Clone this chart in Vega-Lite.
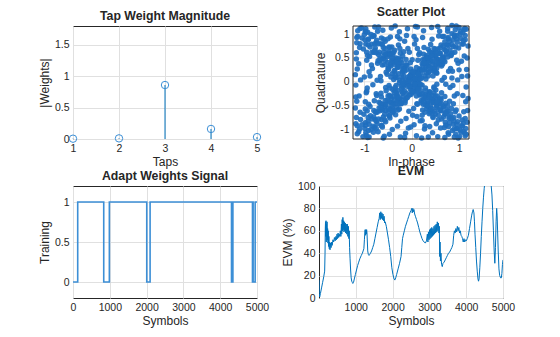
{
"$schema": "https://vega.github.io/schema/vega-lite/v6.json",
"background": "white",
"padding": {"left": 37, "top": 6, "right": 5, "bottom": 5},
"config": {
  "font": "Liberation Sans",
  "view": {"stroke": "#262626", "strokeWidth": 1},
  "axis": {"grid": true, "gridColor": "#e0e0e0", "domain": false, "ticks": false, "labelFontSize": 10.5, "labelColor": "#262626", "titleFontSize": 12, "titleFontWeight": "normal", "titleColor": "#262626", "labelPadding": 4, "titlePadding": 3, "labelFlush": false, "labelOverlap": false},
  "title": {"fontSize": 12.3, "fontWeight": "bold", "color": "#262626", "offset": 4}
},
"datasets": {
  "taps": [{"tap":1,"w":0.005},{"tap":2,"w":0.01},{"tap":3,"w":0.86},{"tap":4,"w":0.16},{"tap":5,"w":0.03}],
  "gy": [{"g":-1},{"g":-0.5},{"g":0},{"g":0.5},{"g":1}],
  "frame": [{"x0":-1.24,"x1":1.21,"y0":-1.2,"y1":1.17}],
  "train": [{"s":0,"t":0},{"s":128,"t":1},{"s":835,"t":0},{"s":988,"t":1},{"s":2004,"t":0},{"s":2095,"t":1},{"s":4307,"t":0},{"s":4345,"t":1},{"s":4877,"t":0},{"s":4887,"t":1},{"s":4895,"t":0},{"s":4950,"t":1},{"s":5000,"t":1}],
  "evm": [{"s":1,"e":16},{"s":10,"e":4},{"s":20,"e":1},{"s":40,"e":4},{"s":70,"e":9},{"s":100,"e":14},{"s":130,"e":19},{"s":155,"e":24},{"s":165,"e":40},{"s":172,"e":62},{"s":178,"e":68},{"s":185,"e":55},{"s":192,"e":69},{"s":198,"e":50},{"s":205,"e":66},{"s":212,"e":58},{"s":220,"e":68},{"s":228,"e":52},{"s":236,"e":62},{"s":244,"e":49},{"s":252,"e":60},{"s":260,"e":46},{"s":270,"e":55},{"s":280,"e":44},{"s":292,"e":50},{"s":300,"e":43},{"s":315,"e":49},{"s":330,"e":45},{"s":345,"e":50},{"s":360,"e":47},{"s":380,"e":52},{"s":400,"e":50},{"s":420,"e":54},{"s":440,"e":51},{"s":460,"e":55},{"s":475,"e":52},{"s":490,"e":57},{"s":505,"e":53},{"s":520,"e":58},{"s":535,"e":54},{"s":550,"e":57},{"s":565,"e":55},{"s":580,"e":60},{"s":595,"e":55},{"s":610,"e":66},{"s":620,"e":57},{"s":630,"e":70},{"s":640,"e":60},{"s":650,"e":72},{"s":660,"e":61},{"s":670,"e":69},{"s":680,"e":59},{"s":690,"e":68},{"s":700,"e":60},{"s":715,"e":67},{"s":725,"e":58},{"s":740,"e":66},{"s":755,"e":57},{"s":770,"e":66},{"s":785,"e":55},{"s":800,"e":64},{"s":812,"e":53},{"s":822,"e":60},{"s":832,"e":45},{"s":845,"e":35},{"s":860,"e":25},{"s":875,"e":18},{"s":890,"e":15},{"s":905,"e":14},{"s":920,"e":13},{"s":940,"e":14},{"s":960,"e":17},{"s":990,"e":21},{"s":1020,"e":25},{"s":1050,"e":29},{"s":1080,"e":32},{"s":1110,"e":35},{"s":1150,"e":38},{"s":1180,"e":40},{"s":1200,"e":42},{"s":1220,"e":44},{"s":1235,"e":52},{"s":1245,"e":58},{"s":1255,"e":61},{"s":1265,"e":56},{"s":1275,"e":61},{"s":1285,"e":57},{"s":1295,"e":61},{"s":1305,"e":58},{"s":1315,"e":50},{"s":1325,"e":42},{"s":1340,"e":39},{"s":1360,"e":38},{"s":1380,"e":39},{"s":1400,"e":40},{"s":1430,"e":42},{"s":1460,"e":45},{"s":1490,"e":48},{"s":1520,"e":53},{"s":1550,"e":58},{"s":1580,"e":63},{"s":1610,"e":68},{"s":1635,"e":71},{"s":1650,"e":76},{"s":1665,"e":70},{"s":1680,"e":77},{"s":1695,"e":71},{"s":1710,"e":76},{"s":1725,"e":70},{"s":1740,"e":75},{"s":1755,"e":69},{"s":1770,"e":73},{"s":1785,"e":67},{"s":1800,"e":68},{"s":1830,"e":64},{"s":1860,"e":58},{"s":1890,"e":52},{"s":1920,"e":45},{"s":1950,"e":37},{"s":1980,"e":27},{"s":2010,"e":21},{"s":2040,"e":17},{"s":2060,"e":16},{"s":2085,"e":18},{"s":2110,"e":21},{"s":2150,"e":26},{"s":2190,"e":31},{"s":2230,"e":37},{"s":2250,"e":45},{"s":2270,"e":53},{"s":2290,"e":56},{"s":2320,"e":60},{"s":2350,"e":64},{"s":2380,"e":67},{"s":2410,"e":70},{"s":2440,"e":73},{"s":2470,"e":76},{"s":2500,"e":78},{"s":2520,"e":80},{"s":2535,"e":76},{"s":2550,"e":80},{"s":2565,"e":77},{"s":2580,"e":79},{"s":2600,"e":75},{"s":2620,"e":73},{"s":2650,"e":70},{"s":2680,"e":67},{"s":2710,"e":63},{"s":2740,"e":59},{"s":2770,"e":56},{"s":2800,"e":53},{"s":2830,"e":51},{"s":2860,"e":50},{"s":2890,"e":49},{"s":2920,"e":51},{"s":2945,"e":57},{"s":2960,"e":50},{"s":2975,"e":59},{"s":2990,"e":52},{"s":3005,"e":61},{"s":3020,"e":53},{"s":3035,"e":62},{"s":3050,"e":54},{"s":3065,"e":63},{"s":3080,"e":55},{"s":3095,"e":62},{"s":3110,"e":56},{"s":3125,"e":64},{"s":3140,"e":57},{"s":3155,"e":65},{"s":3170,"e":58},{"s":3185,"e":66},{"s":3200,"e":59},{"s":3215,"e":68},{"s":3230,"e":60},{"s":3245,"e":67},{"s":3260,"e":58},{"s":3270,"e":64},{"s":3280,"e":37},{"s":3290,"e":50},{"s":3300,"e":33},{"s":3315,"e":40},{"s":3330,"e":30},{"s":3350,"e":28},{"s":3370,"e":31},{"s":3400,"e":32},{"s":3430,"e":34},{"s":3460,"e":36},{"s":3490,"e":38},{"s":3520,"e":40},{"s":3550,"e":41},{"s":3580,"e":43},{"s":3610,"e":45},{"s":3640,"e":48},{"s":3660,"e":56},{"s":3680,"e":60},{"s":3700,"e":58},{"s":3720,"e":62},{"s":3740,"e":59},{"s":3760,"e":64},{"s":3780,"e":60},{"s":3800,"e":63},{"s":3820,"e":58},{"s":3840,"e":60},{"s":3860,"e":56},{"s":3880,"e":55},{"s":3900,"e":53},{"s":3920,"e":50},{"s":3940,"e":53},{"s":3960,"e":50},{"s":3980,"e":52},{"s":4000,"e":51},{"s":4030,"e":53},{"s":4060,"e":56},{"s":4090,"e":62},{"s":4120,"e":68},{"s":4150,"e":74},{"s":4170,"e":77},{"s":4190,"e":79},{"s":4210,"e":76},{"s":4225,"e":68},{"s":4240,"e":57},{"s":4260,"e":45},{"s":4280,"e":33},{"s":4300,"e":24},{"s":4320,"e":17},{"s":4335,"e":15},{"s":4350,"e":17},{"s":4370,"e":27},{"s":4390,"e":40},{"s":4410,"e":55},{"s":4430,"e":68},{"s":4450,"e":80},{"s":4470,"e":90},{"s":4490,"e":98},{"s":4510,"e":104},{"s":4530,"e":108},{"s":4560,"e":110},{"s":4590,"e":110},{"s":4620,"e":108},{"s":4650,"e":104},{"s":4680,"e":100},{"s":4700,"e":92},{"s":4720,"e":78},{"s":4740,"e":60},{"s":4760,"e":42},{"s":4778,"e":31},{"s":4795,"e":45},{"s":4812,"e":68},{"s":4828,"e":80},{"s":4840,"e":74},{"s":4855,"e":58},{"s":4870,"e":42},{"s":4890,"e":26},{"s":4910,"e":20},{"s":4935,"e":18},{"s":4955,"e":18},{"s":4970,"e":22},{"s":4985,"e":30},{"s":5000,"e":34}],
  "iq": [
{"i":-1.12,"q":-1.05},{"i":-1.03,"q":-1.15},{"i":-0.98,"q":-0.86},{"i":-0.91,"q":-1.02},{"i":-0.87,"q":-0.71},{"i":-0.82,"q":-0.93},{"i":-0.76,"q":-0.64},{"i":-0.73,"q":-0.88},{"i":-0.69,"q":-0.55},{"i":-0.64,"q":-0.79},{"i":-0.61,"q":-0.47},{"i":-0.57,"q":-0.68},{"i":-0.52,"q":-0.39},{"i":-0.49,"q":-0.62},{"i":-0.45,"q":-0.31},{"i":-0.41,"q":-0.55},{"i":-0.37,"q":-0.22},{"i":-0.34,"q":-0.46},{"i":-0.29,"q":-0.18},{"i":-0.26,"q":-0.38},{"i":-0.22,"q":-0.09},{"i":-0.18,"q":-0.31},{"i":-0.14,"q":-0.02},{"i":-0.11,"q":-0.24},{"i":-0.07,"q":0.05},{"i":-0.03,"q":-0.15},{"i":0.02,"q":0.11},{"i":0.05,"q":-0.08},{"i":0.09,"q":0.19},{"i":0.13,"q":0.01},{"i":0.17,"q":0.27},{"i":0.21,"q":0.08},{"i":0.24,"q":0.35},{"i":0.28,"q":0.12},{"i":0.32,"q":0.44},{"i":0.36,"q":0.21},{"i":0.39,"q":0.52},{"i":0.43,"q":0.28},{"i":0.47,"q":0.61},{"i":0.51,"q":0.36},{"i":0.55,"q":0.69},{"i":0.58,"q":0.43},{"i":0.62,"q":0.77},{"i":0.66,"q":0.51},{"i":0.7,"q":0.84},{"i":0.73,"q":0.58},{"i":0.77,"q":0.93},{"i":0.81,"q":0.66},{"i":0.85,"q":1.01},{"i":0.88,"q":0.74},{"i":0.92,"q":1.09},{"i":0.96,"q":0.83},{"i":1.0,"q":1.14},{"i":1.04,"q":0.91},{"i":1.08,"q":1.03},{"i":1.13,"q":0.97},
{"i":-1.08,"q":-0.79},{"i":-1.01,"q":-0.68},{"i":-0.94,"q":-0.61},{"i":-0.88,"q":-0.52},{"i":-0.79,"q":-0.96},{"i":-0.71,"q":-1.05},{"i":-0.63,"q":-0.91},{"i":-0.55,"q":-0.84},{"i":-0.47,"q":-0.72},{"i":-0.4,"q":-0.16},{"i":-0.33,"q":-0.08},{"i":-0.25,"q":0.03},{"i":-0.17,"q":0.12},{"i":-0.09,"q":-0.33},{"i":-0.01,"q":-0.26},{"i":0.07,"q":-0.19},{"i":0.15,"q":-0.11},{"i":0.23,"q":0.46},{"i":0.31,"q":0.55},{"i":0.38,"q":0.63},{"i":0.46,"q":0.22},{"i":0.53,"q":0.29},{"i":0.61,"q":0.37},{"i":0.68,"q":0.95},{"i":0.76,"q":1.06},{"i":0.83,"q":0.55},{"i":0.91,"q":0.62},{"i":0.99,"q":0.71},{"i":1.06,"q":0.79},{"i":1.12,"q":1.12},{"i":-1.15,"q":-0.92},{"i":-0.96,"q":-1.12},{"i":-0.84,"q":-0.78},{"i":-0.67,"q":-0.61},{"i":-0.58,"q":-0.53},{"i":-0.43,"q":-0.44},{"i":-0.31,"q":-0.29},{"i":-0.2,"q":-0.21},{"i":-0.05,"q":-0.06},{"i":0.04,"q":0.03},{"i":0.11,"q":0.09},{"i":0.19,"q":0.18},{"i":0.27,"q":0.26},{"i":0.35,"q":0.33},{"i":0.44,"q":0.42},{"i":0.52,"q":0.5},{"i":0.6,"q":0.59},{"i":0.69,"q":0.67},{"i":0.78,"q":0.76},{"i":0.87,"q":0.88},{"i":0.95,"q":0.97},{"i":1.03,"q":1.05},{"i":-0.99,"q":-0.98},{"i":-0.9,"q":-0.89},{"i":-0.77,"q":-0.79},
{"i":-1.14,"q":1.07},{"i":-1.06,"q":1.13},{"i":-0.99,"q":0.88},{"i":-0.93,"q":1.04},{"i":-0.88,"q":0.73},{"i":-0.83,"q":0.95},{"i":-0.78,"q":0.66},{"i":-0.74,"q":0.87},{"i":-0.7,"q":0.57},{"i":-0.65,"q":0.8},{"i":-0.6,"q":0.49},{"i":-0.56,"q":0.7},{"i":-0.51,"q":0.41},{"i":-0.48,"q":0.63},{"i":-0.44,"q":0.33},{"i":-0.4,"q":0.56},{"i":-0.36,"q":0.24},{"i":-0.33,"q":0.47},{"i":-0.28,"q":0.17},{"i":-0.25,"q":0.39},{"i":-0.21,"q":0.1},{"i":-0.17,"q":0.32},{"i":-0.13,"q":0.03},{"i":-0.1,"q":0.25},{"i":-0.06,"q":-0.04},{"i":-0.02,"q":0.16},{"i":0.03,"q":-0.12},{"i":0.06,"q":0.07},{"i":0.1,"q":-0.2},{"i":0.14,"q":-0.01},{"i":0.18,"q":-0.28},{"i":0.22,"q":-0.07},{"i":0.25,"q":-0.36},{"i":0.29,"q":-0.13},{"i":0.33,"q":-0.45},{"i":0.37,"q":-0.22},{"i":0.4,"q":-0.53},{"i":0.44,"q":-0.29},{"i":0.48,"q":-0.62},{"i":0.52,"q":-0.37},{"i":0.56,"q":-0.7},{"i":0.59,"q":-0.44},{"i":0.63,"q":-0.78},{"i":0.67,"q":-0.52},{"i":0.71,"q":-0.85},{"i":0.74,"q":-0.59},{"i":0.78,"q":-0.94},{"i":0.82,"q":-0.67},{"i":0.86,"q":-1.02},{"i":0.89,"q":-0.75},{"i":0.93,"q":-1.1},{"i":0.97,"q":-0.84},{"i":1.01,"q":-1.15},{"i":1.05,"q":-0.92},{"i":1.09,"q":-1.04},{"i":1.14,"q":-0.98},
{"i":-1.09,"q":0.8},{"i":-1.02,"q":0.69},{"i":-0.95,"q":0.62},{"i":-0.89,"q":0.53},{"i":-0.8,"q":0.97},{"i":-0.72,"q":1.06},{"i":-0.64,"q":0.92},{"i":-0.56,"q":0.85},{"i":-0.48,"q":0.73},{"i":-0.41,"q":0.17},{"i":-0.34,"q":0.09},{"i":-0.26,"q":-0.02},{"i":-0.18,"q":-0.11},{"i":-0.1,"q":0.34},{"i":-0.02,"q":0.27},{"i":0.08,"q":0.2},{"i":0.16,"q":0.12},{"i":0.24,"q":-0.47},{"i":0.32,"q":-0.56},{"i":0.39,"q":-0.64},{"i":0.47,"q":-0.23},{"i":0.54,"q":-0.3},{"i":0.62,"q":-0.38},{"i":0.69,"q":-0.96},{"i":0.77,"q":-1.07},{"i":0.84,"q":-0.56},{"i":0.92,"q":-0.63},{"i":1.0,"q":-0.72},{"i":1.07,"q":-0.8},{"i":1.13,"q":-1.13},{"i":-1.16,"q":0.93},{"i":-0.97,"q":1.11},{"i":-0.85,"q":0.79},{"i":-0.68,"q":0.62},{"i":-0.59,"q":0.54},{"i":-0.42,"q":0.45},{"i":-0.3,"q":0.3},{"i":-0.19,"q":0.2},{"i":-0.04,"q":0.05},{"i":0.05,"q":-0.04},{"i":0.12,"q":-0.1},{"i":0.2,"q":-0.19},{"i":0.28,"q":-0.27},{"i":0.36,"q":-0.34},{"i":0.45,"q":-0.43},{"i":0.53,"q":-0.51},{"i":0.61,"q":-0.6},{"i":0.7,"q":-0.68},{"i":0.79,"q":-0.77},{"i":0.88,"q":-0.89},{"i":0.96,"q":-0.98},{"i":1.04,"q":-1.06},{"i":-1.0,"q":0.99},{"i":-0.91,"q":0.9},{"i":-0.78,"q":0.8},
{"i":-1.15,"q":-1.09},{"i":-0.93,"q":-1.17},{"i":-0.81,"q":-1.06},{"i":-0.58,"q":-1.14},{"i":-0.47,"q":-1.1},{"i":-0.24,"q":-1.16},{"i":-0.13,"q":-1.08},{"i":0.1,"q":-1.13},{"i":0.21,"q":-1.18},{"i":0.44,"q":-1.07},{"i":0.55,"q":-1.15},{"i":0.78,"q":-1.1},{"i":0.9,"q":-1.16},{"i":1.12,"q":-1.08},
{"i":-1.1,"q":-0.99},{"i":-0.97,"q":-0.91},{"i":-0.75,"q":-0.98},{"i":-0.64,"q":-0.92},{"i":-0.41,"q":-1.0},{"i":-0.3,"q":-0.93},{"i":-0.07,"q":-0.97},{"i":0.05,"q":-0.9},{"i":0.27,"q":-0.99},{"i":0.38,"q":-0.94},{"i":0.61,"q":-0.97},{"i":0.72,"q":-0.91},{"i":0.95,"q":-0.98},{"i":1.07,"q":-0.93},
{"i":-1.17,"q":-0.75},{"i":-0.92,"q":-0.82},{"i":-0.8,"q":-0.74},{"i":-0.57,"q":-0.8},{"i":-0.46,"q":-0.76},{"i":-0.23,"q":-0.83},{"i":-0.12,"q":-0.77},{"i":0.11,"q":-0.73},{"i":0.22,"q":-0.81},{"i":0.45,"q":-0.75},{"i":0.56,"q":-0.8},{"i":0.79,"q":-0.74},{"i":0.89,"q":-0.82},{"i":1.13,"q":-0.77},
{"i":-1.09,"q":-0.64},{"i":-0.98,"q":-0.57},{"i":-0.76,"q":-0.63},{"i":-0.63,"q":-0.58},{"i":-0.4,"q":-0.65},{"i":-0.29,"q":-0.59},{"i":-0.06,"q":-0.62},{"i":0.04,"q":-0.56},{"i":0.28,"q":-0.64},{"i":0.37,"q":-0.6},{"i":0.62,"q":-0.57},{"i":0.71,"q":-0.65},{"i":0.94,"q":-0.59},{"i":1.1,"q":-0.63},
{"i":-1.16,"q":-0.41},{"i":-0.91,"q":-0.47},{"i":-0.79,"q":-0.4},{"i":-0.56,"q":-0.48},{"i":-0.47,"q":-0.42},{"i":-0.22,"q":-0.46},{"i":-0.14,"q":-0.4},{"i":0.12,"q":-0.47},{"i":0.2,"q":-0.43},{"i":0.46,"q":-0.39},{"i":0.54,"q":-0.48},{"i":0.8,"q":-0.41},{"i":0.88,"q":-0.46},{"i":1.14,"q":-0.42},
{"i":-1.11,"q":-0.3},{"i":-0.96,"q":-0.23},{"i":-0.74,"q":-0.29},{"i":-0.65,"q":-0.24},{"i":-0.39,"q":-0.31},{"i":-0.31,"q":-0.25},{"i":-0.05,"q":-0.28},{"i":0.03,"q":-0.22},{"i":0.29,"q":-0.3},{"i":0.36,"q":-0.26},{"i":0.63,"q":-0.23},{"i":0.7,"q":-0.31},{"i":0.96,"q":-0.25},{"i":1.08,"q":-0.29},
{"i":-1.18,"q":-0.07},{"i":-0.94,"q":-0.13},{"i":-0.82,"q":-0.06},{"i":-0.55,"q":-0.12},{"i":-0.48,"q":-0.08},{"i":-0.21,"q":-0.14},{"i":-0.15,"q":-0.06},{"i":0.13,"q":-0.11},{"i":0.19,"q":-0.07},{"i":0.47,"q":-0.13},{"i":0.53,"q":-0.05},{"i":0.81,"q":-0.12},{"i":0.87,"q":-0.08},{"i":1.15,"q":-0.11},
{"i":-1.08,"q":0.04},{"i":-1.0,"q":0.1},{"i":-0.73,"q":0.03},{"i":-0.66,"q":0.11},{"i":-0.38,"q":0.05},{"i":-0.32,"q":0.09},{"i":-0.04,"q":0.02},{"i":0.02,"q":0.1},{"i":0.3,"q":0.06},{"i":0.35,"q":0.12},{"i":0.64,"q":0.03},{"i":0.69,"q":0.09},{"i":0.97,"q":0.04},{"i":1.06,"q":0.11},
{"i":-1.15,"q":0.27},{"i":-0.9,"q":0.21},{"i":-0.83,"q":0.28},{"i":-0.54,"q":0.2},{"i":-0.49,"q":0.26},{"i":-0.2,"q":0.22},{"i":-0.16,"q":0.29},{"i":0.14,"q":0.21},{"i":0.18,"q":0.27},{"i":0.48,"q":0.23},{"i":0.52,"q":0.2},{"i":0.82,"q":0.28},{"i":0.86,"q":0.22},{"i":1.16,"q":0.26},
{"i":-1.12,"q":0.38},{"i":-0.95,"q":0.45},{"i":-0.72,"q":0.39},{"i":-0.67,"q":0.44},{"i":-0.37,"q":0.37},{"i":-0.33,"q":0.43},{"i":-0.03,"q":0.4},{"i":0.01,"q":0.46},{"i":0.31,"q":0.38},{"i":0.34,"q":0.44},{"i":0.65,"q":0.37},{"i":0.68,"q":0.45},{"i":0.98,"q":0.39},{"i":1.05,"q":0.43},
{"i":-1.17,"q":0.61},{"i":-0.93,"q":0.55},{"i":-0.84,"q":0.62},{"i":-0.53,"q":0.56},{"i":-0.5,"q":0.6},{"i":-0.19,"q":0.54},{"i":-0.17,"q":0.63},{"i":0.15,"q":0.57},{"i":0.17,"q":0.61},{"i":0.49,"q":0.55},{"i":0.51,"q":0.62},{"i":0.83,"q":0.56},{"i":0.85,"q":0.6},{"i":1.11,"q":0.54},
{"i":-1.1,"q":0.72},{"i":-0.97,"q":0.79},{"i":-0.77,"q":0.71},{"i":-0.62,"q":0.78},{"i":-0.42,"q":0.73},{"i":-0.28,"q":0.77},{"i":-0.08,"q":0.7},{"i":0.06,"q":0.79},{"i":0.26,"q":0.72},{"i":0.4,"q":0.78},{"i":0.6,"q":0.71},{"i":0.74,"q":0.77},{"i":0.93,"q":0.73},{"i":1.09,"q":0.79},
{"i":-1.14,"q":0.95},{"i":-0.92,"q":0.88},{"i":-0.8,"q":0.96},{"i":-0.59,"q":0.89},{"i":-0.45,"q":0.94},{"i":-0.25,"q":0.9},{"i":-0.11,"q":0.97},{"i":0.09,"q":0.88},{"i":0.23,"q":0.93},{"i":0.43,"q":0.89},{"i":0.57,"q":0.96},{"i":0.77,"q":0.9},{"i":0.91,"q":0.95},{"i":1.13,"q":0.88},
{"i":-1.09,"q":1.12},{"i":-0.98,"q":1.06},{"i":-0.78,"q":1.15},{"i":-0.61,"q":1.08},{"i":-0.43,"q":1.13},{"i":-0.26,"q":1.05},{"i":-0.09,"q":1.11},{"i":0.08,"q":1.16},{"i":0.25,"q":1.07},{"i":0.42,"q":1.14},{"i":0.59,"q":1.06},{"i":0.76,"q":1.12},{"i":0.94,"q":1.17},{"i":1.1,"q":1.09},
{"i":0.31,"q":0.52},{"i":0.48,"q":0.29},{"i":0.55,"q":0.47},{"i":0.22,"q":0.38},{"i":0.41,"q":0.61},{"i":0.63,"q":0.33},{"i":0.36,"q":0.2},{"i":0.5,"q":0.55},{"i":0.27,"q":0.47},{"i":0.44,"q":0.36},{"i":0.6,"q":0.6},{"i":0.18,"q":0.25},{"i":0.35,"q":0.68},{"i":0.7,"q":0.42},{"i":0.53,"q":0.18},{"i":0.39,"q":0.44},{"i":0.25,"q":0.58},{"i":0.66,"q":0.52},{"i":0.47,"q":0.7},{"i":0.3,"q":0.3},{"i":0.57,"q":0.38},{"i":0.13,"q":0.45},{"i":0.45,"q":0.12},{"i":0.74,"q":0.63},{"i":0.34,"q":0.39},
{"i":-0.33,"q":0.5},{"i":-0.49,"q":0.31},{"i":-0.56,"q":0.45},{"i":-0.21,"q":0.4},{"i":-0.42,"q":0.6},{"i":-0.62,"q":0.35},{"i":-0.37,"q":0.22},{"i":-0.51,"q":0.53},{"i":-0.28,"q":0.49},{"i":-0.45,"q":0.37},{"i":-0.59,"q":0.62},{"i":-0.17,"q":0.27},{"i":-0.36,"q":0.66},{"i":-0.71,"q":0.44},{"i":-0.52,"q":0.16},{"i":-0.4,"q":0.42},{"i":-0.24,"q":0.6},{"i":-0.67,"q":0.5},{"i":-0.46,"q":0.72},{"i":-0.29,"q":0.32},{"i":-0.58,"q":0.36},{"i":-0.12,"q":0.47},{"i":-0.44,"q":0.1},{"i":-0.75,"q":0.61},{"i":-0.35,"q":0.41},
{"i":-0.32,"q":-0.53},{"i":-0.47,"q":-0.28},{"i":-0.54,"q":-0.48},{"i":-0.23,"q":-0.37},{"i":-0.4,"q":-0.62},{"i":-0.64,"q":-0.32},{"i":-0.35,"q":-0.19},{"i":-0.49,"q":-0.56},{"i":-0.26,"q":-0.46},{"i":-0.43,"q":-0.35},{"i":-0.61,"q":-0.59},{"i":-0.19,"q":-0.24},{"i":-0.34,"q":-0.69},{"i":-0.69,"q":-0.43},{"i":-0.54,"q":-0.19},{"i":-0.38,"q":-0.45},{"i":-0.26,"q":-0.57},{"i":-0.65,"q":-0.53},{"i":-0.48,"q":-0.71},{"i":-0.31,"q":-0.31},{"i":-0.56,"q":-0.39},{"i":-0.14,"q":-0.44},{"i":-0.46,"q":-0.13},{"i":-0.73,"q":-0.64},{"i":-0.36,"q":-0.38},
{"i":0.32,"q":-0.51},{"i":0.5,"q":-0.3},{"i":0.57,"q":-0.46},{"i":0.2,"q":-0.39},{"i":0.43,"q":-0.63},{"i":0.61,"q":-0.34},{"i":0.38,"q":-0.21},{"i":0.52,"q":-0.54},{"i":0.29,"q":-0.48},{"i":0.42,"q":-0.36},{"i":0.62,"q":-0.61},{"i":0.16,"q":-0.26},{"i":0.37,"q":-0.67},{"i":0.72,"q":-0.45},{"i":0.51,"q":-0.17},{"i":0.41,"q":-0.43},{"i":0.23,"q":-0.59},{"i":0.68,"q":-0.51},{"i":0.45,"q":-0.73},{"i":0.28,"q":-0.33},{"i":0.59,"q":-0.37},{"i":0.11,"q":-0.46},{"i":0.47,"q":-0.11},{"i":0.76,"q":-0.62},{"i":0.33,"q":-0.42},
{"i":-1.05,"q":-0.9},{"i":-0.97,"q":-1.07},{"i":-0.92,"q":-0.75},{"i":-0.86,"q":-1.0},{"i":-0.8,"q":-0.6},{"i":-0.75,"q":-0.83},{"i":-0.7,"q":-0.78},{"i":-0.66,"q":-0.45},{"i":-0.6,"q":-0.74},{"i":-0.55,"q":-0.6},{"i":-0.5,"q":-0.3},{"i":-0.46,"q":-0.58},{"i":-0.42,"q":-0.49},{"i":-0.38,"q":-0.6},{"i":-0.35,"q":-0.12},{"i":-0.3,"q":-0.4},{"i":-0.27,"q":-0.33},{"i":-0.23,"q":-0.45},{"i":-0.19,"q":-0.04},{"i":-0.15,"q":-0.2},{"i":-0.12,"q":-0.35},{"i":-0.08,"q":0.1},{"i":-0.04,"q":-0.1},{"i":0.0,"q":0.2},{"i":0.03,"q":-0.2},{"i":0.07,"q":0.06},{"i":0.1,"q":0.3},{"i":0.14,"q":0.16},{"i":0.18,"q":-0.05},{"i":0.22,"q":0.25},{"i":0.26,"q":0.4},{"i":0.3,"q":0.2},{"i":0.34,"q":0.5},{"i":0.38,"q":0.3},{"i":0.42,"q":0.55},{"i":0.46,"q":0.45},{"i":0.5,"q":0.68},{"i":0.54,"q":0.4},{"i":0.58,"q":0.6},{"i":0.63,"q":0.48},{"i":0.67,"q":0.75},{"i":0.72,"q":0.66},{"i":0.76,"q":0.52},{"i":0.8,"q":0.85},{"i":0.85,"q":0.78},{"i":0.9,"q":0.98},{"i":0.95,"q":0.9},{"i":1.02,"q":1.0},{"i":1.09,"q":0.86},{"i":1.15,"q":1.1},
{"i":-1.05,"q":0.92},{"i":-0.97,"q":1.05},{"i":-0.92,"q":0.77},{"i":-0.86,"q":0.99},{"i":-0.8,"q":0.62},{"i":-0.75,"q":0.82},{"i":-0.7,"q":0.8},{"i":-0.66,"q":0.46},{"i":-0.6,"q":0.72},{"i":-0.55,"q":0.58},{"i":-0.5,"q":0.28},{"i":-0.46,"q":0.56},{"i":-0.42,"q":0.5},{"i":-0.38,"q":0.62},{"i":-0.35,"q":0.14},{"i":-0.3,"q":0.42},{"i":-0.27,"q":0.31},{"i":-0.23,"q":0.47},{"i":-0.19,"q":0.02},{"i":-0.15,"q":0.22},{"i":-0.12,"q":0.36},{"i":-0.08,"q":-0.1},{"i":-0.04,"q":0.12},{"i":0.0,"q":-0.2},{"i":0.03,"q":0.22},{"i":0.07,"q":-0.05},{"i":0.1,"q":-0.3},{"i":0.14,"q":-0.15},{"i":0.18,"q":0.06},{"i":0.22,"q":-0.25},{"i":0.26,"q":-0.41},{"i":0.3,"q":-0.19},{"i":0.34,"q":-0.5},{"i":0.38,"q":-0.32},{"i":0.42,"q":-0.56},{"i":0.46,"q":-0.44},{"i":0.5,"q":-0.67},{"i":0.54,"q":-0.42},{"i":0.58,"q":-0.59},{"i":0.63,"q":-0.47},{"i":0.67,"q":-0.74},{"i":0.72,"q":-0.67},{"i":0.76,"q":-0.5},{"i":0.8,"q":-0.86},{"i":0.85,"q":-0.77},{"i":0.9,"q":-0.99},{"i":0.95,"q":-0.89},{"i":1.02,"q":-1.01},{"i":1.09,"q":-0.87},{"i":1.15,"q":-1.1},
{"i":-1.19,"q":0.15},{"i":-1.18,"q":-0.32},{"i":-1.17,"q":0.48},{"i":-1.19,"q":-0.55},{"i":-1.16,"q":0.82},{"i":-1.18,"q":-0.88},{"i":1.18,"q":0.12},{"i":1.19,"q":-0.35},{"i":1.17,"q":0.5},{"i":1.18,"q":-0.6},{"i":1.19,"q":0.75},{"i":1.17,"q":-0.85},{"i":0.12,"q":1.15},{"i":-0.35,"q":1.17},{"i":0.55,"q":1.16},{"i":-0.7,"q":1.15},{"i":0.85,"q":1.18},{"i":-0.15,"q":-1.17},{"i":0.35,"q":-1.16},{"i":-0.6,"q":-1.18},{"i":0.7,"q":-1.17},{"i":-0.9,"q":-1.16},{"i":0.98,"q":-1.18},{"i":-0.05,"q":0.62},{"i":0.02,"q":-0.7},{"i":-0.65,"q":0.02},{"i":0.72,"q":-0.05},{"i":-0.85,"q":0.35},{"i":0.9,"q":-0.3},{"i":-0.3,"q":0.95},{"i":0.28,"q":-0.92},{"i":-0.15,"q":0.85},{"i":0.18,"q":-0.82},{"i":-0.95,"q":-0.2},{"i":1.0,"q":0.25},{"i":0.65,"q":0.95},{"i":-0.62,"q":-0.95},{"i":0.95,"q":0.45},{"i":-0.98,"q":-0.42},{"i":-0.5,"q":0.9},{"i":0.52,"q":-0.88},{"i":-0.88,"q":0.12},{"i":0.85,"q":0.08},{"i":0.05,"q":0.95},{"i":-0.02,"q":-0.95},{"i":-0.25,"q":0.7},{"i":0.22,"q":-0.7},{"i":-0.75,"q":-0.25},{"i":0.78,"q":0.22},{"i":0.12,"q":0.7}
  ]
},
"columns": 2,
"spacing": {"row": 47, "column": 62},
"bounds": "flush",
"concat": [
  {
    "width": 184, "height": 113,
    "title": "Tap Weight Magnitude",
    "data": {"name": "taps"},
    "encoding": {
      "x": {"field": "tap", "type": "quantitative", "scale": {"domain": [1, 5], "nice": false, "zero": false}, "axis": {"title": "Taps", "values": [1,2,3,4,5], "format": "d"}},
      "y": {"field": "w", "type": "quantitative", "scale": {"domain": [0, 1.8], "nice": false}, "axis": {"title": "|Weights|", "values": [0,0.5,1,1.5], "format": "~g"}}
    },
    "layer": [
      {"mark": {"type": "rule", "color": "#0072BD", "strokeWidth": 1},
       "encoding": {"y2": {"datum": 0}}},
      {"mark": {"type": "point", "shape": "circle", "filled": false, "color": "#3c8fd6", "strokeWidth": 1, "size": 55, "opacity": 1},
       "encoding": {}}
    ]
  },
  {
    "width": 184, "height": 113,
    "title": "Scatter Plot",
    "view": {"stroke": null},
    "layer": [
      {
        "data": {"name": "gy"},
        "mark": {"type": "rule", "color": "#e0e0e0", "strokeWidth": 1},
        "encoding": {
          "y": {"field": "g", "type": "quantitative", "scale": {"domain": [-1.2, 1.17], "nice": false, "zero": false}, "axis": {"title": "Quadrature", "values": [-1, -0.5, 0, 0.5, 1], "format": "~g", "grid": false, "offset": -34, "labelExpr": "replace(datum.label, '\u2212', '-')"}},
          "x": {"datum": -1.24, "type": "quantitative", "scale": {"domain": [-1.24, 1.21], "range": [34, 150], "nice": false, "zero": false}, "axis": {"title": "In-phase", "values": [-1, 0, 1], "format": "~g", "labelExpr": "replace(datum.label, '\u2212', '-')"}},
          "x2": {"datum": 1.21}
        }
      },
      {
        "data": {"name": "iq"},
        "mark": {"type": "circle", "color": "#1f6fbf", "size": 30, "opacity": 0.92},
        "encoding": {
          "x": {"field": "i", "type": "quantitative", "axis": {"title": "In-phase", "values": [-1, 0, 1], "format": "~g", "labelExpr": "replace(datum.label, '\u2212', '-')"}},
          "y": {"field": "q", "type": "quantitative", "axis": {"title": "Quadrature", "values": [-1, -0.5, 0, 0.5, 1], "format": "~g", "grid": false, "offset": -34, "labelExpr": "replace(datum.label, '\u2212', '-')"}}
        }
      },
      {
        "data": {"name": "frame"},
        "mark": {"type": "rect", "fill": null, "fillOpacity": 0, "stroke": "#262626", "strokeWidth": 1},
        "encoding": {
          "x": {"field": "x0", "type": "quantitative", "axis": {"title": "In-phase", "values": [-1, 0, 1], "format": "~g", "labelExpr": "replace(datum.label, '\u2212', '-')"}},
          "x2": {"field": "x1"},
          "y": {"field": "y0", "type": "quantitative", "axis": {"title": "Quadrature", "values": [-1, -0.5, 0, 0.5, 1], "format": "~g", "grid": false, "offset": -34, "labelExpr": "replace(datum.label, '\u2212', '-')"}},
          "y2": {"field": "y1"}
        }
      }
    ]
  },
  {
    "width": 184, "height": 112,
    "title": "Adapt Weights Signal",
    "data": {"name": "train"},
    "mark": {"type": "line", "interpolate": "step-after", "color": "#3c8fd6", "strokeWidth": 1.6},
    "encoding": {
      "x": {"field": "s", "type": "quantitative", "scale": {"domain": [0, 5000], "nice": false}, "axis": {"title": "Symbols", "values": [0,1000,2000,3000,4000,5000], "format": "d"}},
      "y": {"field": "t", "type": "quantitative", "scale": {"domain": [-0.2, 1.2], "nice": false}, "axis": {"title": "Training", "values": [0, 0.5, 1], "format": "~g"}}
    }
  },
  {
    "width": 184, "height": 112,
    "title": "EVM",
    "data": {"name": "evm"},
    "mark": {"type": "line", "color": "#0072BD", "strokeWidth": 1, "clip": true},
    "encoding": {
      "x": {"field": "s", "type": "quantitative", "scale": {"domain": [1, 5000], "nice": false, "zero": false}, "axis": {"title": "Symbols", "values": [1000,2000,3000,4000,5000], "format": "d"}},
      "y": {"field": "e", "type": "quantitative", "scale": {"domain": [0, 100], "nice": false}, "axis": {"title": "EVM (%)", "values": [0,20,40,60,80,100], "format": "d"}}
    }
  }
]
}
